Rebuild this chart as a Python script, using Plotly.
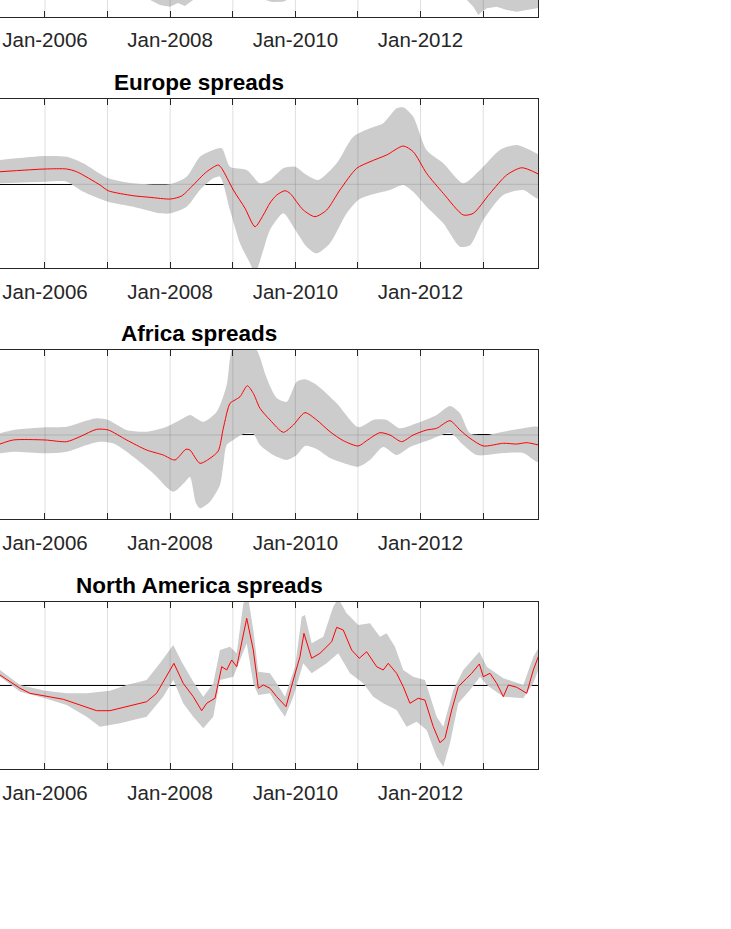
import plotly.graph_objects as go
from datetime import datetime, timedelta

# ---------------- data (time as decimal year, values as spread index) ----------------
# Top panel (only its lower band edge is visible, the rest is cropped away)
top_low_t = [2005.281, 2007.518, 2007.677, 2007.837, 2007.997, 2008.125, 2008.236, 2008.396, 2008.556,
             2009.355, 2009.466, 2009.626, 2009.802, 2009.914, 2010.073,
             2012.549, 2012.725, 2012.842, 2012.922, 2012.976, 2013.056, 2013.215, 2013.375,
             2013.535, 2013.695, 2013.854, 2013.880]
top_low_v = [-0.6, -0.7, -0.80, -0.862, -0.882, -0.838, -0.873, -0.80, -0.7,
             -0.7, -0.79, -0.826, -0.822, -0.79, -0.7,
             -0.7, -0.79, -0.882, -0.980, -0.941, -0.901, -0.882, -0.921,
             -0.941, -0.921, -0.901, -0.897]

# Europe
eu_mid_t = [2005.281, 2006.000, 2006.347, 2006.506, 2006.879, 2007.011, 2007.411, 2007.677, 2008.008,
            2008.184, 2008.369, 2008.583, 2008.768, 2008.823, 2009.008, 2009.195, 2009.355, 2009.487,
            2009.594, 2009.701, 2009.834, 2009.914, 2010.126, 2010.313, 2010.500, 2010.712, 2010.979,
            2011.192, 2011.458, 2011.724, 2011.883, 2012.097, 2012.363, 2012.682, 2012.842, 2013.108,
            2013.375, 2013.615, 2013.880]
eu_mid_v = [0.149, 0.181, 0.181, 0.149, -0.008, -0.076, -0.135, -0.154, -0.174,
            -0.138, -0.008, 0.149, 0.228, 0.189, -0.067, -0.284, -0.502, -0.363,
            -0.221, -0.127, -0.076, -0.107, -0.304, -0.383, -0.304, -0.067, 0.189,
            0.267, 0.347, 0.453, 0.386, 0.130, -0.107, -0.363, -0.343, -0.107,
            0.110, 0.196, 0.122]
eu_up_t = [2005.281, 2006.000, 2006.347, 2006.612, 2007.011, 2007.411, 2008.008, 2008.264, 2008.476,
           2008.688, 2008.823, 2008.955, 2009.222, 2009.434, 2009.594, 2009.807, 2009.994, 2010.180,
           2010.366, 2010.660, 2010.925, 2011.192, 2011.404, 2011.618, 2011.724, 2011.883, 2012.097,
           2012.363, 2012.682, 2012.949, 2013.268, 2013.535, 2013.800, 2013.880]
eu_up_v = [0.288, 0.335, 0.327, 0.249, 0.071, 0.012, 0.004, 0.090, 0.327,
           0.406, 0.426, 0.208, 0.169, 0.012, 0.051, 0.189, 0.208, 0.110,
           0.051, 0.249, 0.563, 0.663, 0.722, 0.899, 0.911, 0.800, 0.406,
           0.249, 0.012, 0.169, 0.406, 0.465, 0.386, 0.347]
eu_lo_t = [2005.281, 2006.000, 2006.347, 2006.612, 2007.011, 2007.411, 2007.837, 2008.008, 2008.264,
           2008.476, 2008.688, 2008.795, 2008.955, 2009.115, 2009.275, 2009.355, 2009.487, 2009.594,
           2009.807, 2009.966, 2010.180, 2010.340, 2010.553, 2010.819, 2011.005, 2011.192, 2011.511,
           2011.724, 2011.883, 2012.097, 2012.363, 2012.629, 2012.789, 2013.001, 2013.321, 2013.640,
           2013.880]
eu_lo_v = [0.012, 0.031, 0.031, -0.088, -0.206, -0.265, -0.343, -0.343, -0.265,
           -0.067, 0.071, 0.090, -0.304, -0.698, -0.935, -1.05, -0.778, -0.541,
           -0.343, -0.501, -0.738, -0.817, -0.698, -0.343, -0.185, -0.127, -0.067,
           -0.008, -0.088, -0.265, -0.462, -0.738, -0.722, -0.422, -0.127, -0.067,
           -0.166]

# Africa
af_mid_t = [2005.281, 2005.494, 2006.000, 2006.347, 2006.559, 2006.826, 2007.011, 2007.305, 2007.625,
            2007.890, 2008.077, 2008.252, 2008.316, 2008.476, 2008.636, 2008.768, 2008.848, 2008.955,
            2009.035, 2009.115, 2009.232, 2009.327, 2009.434, 2009.594, 2009.807, 2009.966, 2010.153,
            2010.340, 2010.553, 2010.765, 2011.005, 2011.139, 2011.351, 2011.511, 2011.698, 2011.883,
            2012.097, 2012.257, 2012.470, 2012.629, 2012.789, 2013.001, 2013.321, 2013.535, 2013.695,
            2013.880]
af_mid_v = [-0.107, -0.059, -0.059, -0.079, -0.020, 0.067, 0.059, -0.059, -0.178,
            -0.237, -0.296, -0.169, -0.178, -0.335, -0.276, -0.189, 0.079, 0.375,
            0.414, 0.453, 0.583, 0.493, 0.316, 0.178, 0.032, 0.118, 0.264,
            0.178, 0.039, -0.067, -0.130, -0.067, 0.027, 0.000, -0.079, 0.000,
            0.059, 0.079, 0.169, 0.059, -0.039, -0.130, -0.098, -0.107, -0.091,
            -0.118]
af_up_t = [2005.281, 2005.494, 2006.000, 2006.347, 2006.559, 2006.826, 2007.011, 2007.305, 2007.625,
           2007.944, 2008.209, 2008.316, 2008.529, 2008.743, 2008.902, 2008.955, 2009.008, 2009.195,
           2009.382, 2009.541, 2009.701, 2009.861, 2010.021, 2010.153, 2010.340, 2010.660, 2011.005,
           2011.244, 2011.458, 2011.671, 2011.938, 2012.257, 2012.470, 2012.629, 2012.789, 2013.056,
           2013.321, 2013.640, 2013.880]
af_up_v = [0.020, 0.059, 0.091, 0.098, 0.146, 0.198, 0.178, 0.059, 0.039,
           0.098, 0.198, 0.237, 0.157, 0.276, 0.592, 0.908, 1.065, 1.124,
           1.006, 0.675, 0.438, 0.394, 0.631, 0.659, 0.592, 0.375, 0.091,
           0.178, 0.178, 0.079, 0.138, 0.237, 0.343, 0.257, 0.020, 0.000,
           0.039, 0.079, 0.091]
af_lo_t = [2005.281, 2005.494, 2006.000, 2006.347, 2006.666, 2006.879, 2007.091, 2007.411, 2007.730,
           2008.050, 2008.236, 2008.316, 2008.412, 2008.476, 2008.636, 2008.795, 2008.848, 2008.902,
           2009.008, 2009.168, 2009.327, 2009.434, 2009.647, 2009.861, 2010.021, 2010.153, 2010.340,
           2010.553, 2010.765, 2011.005, 2011.192, 2011.404, 2011.618, 2011.831, 2012.097, 2012.470,
           2012.682, 2012.896, 2013.321, 2013.640, 2013.880]
af_lo_v = [-0.217, -0.198, -0.217, -0.198, -0.118, -0.079, -0.098, -0.257, -0.453,
           -0.671, -0.556, -0.497, -0.805, -0.867, -0.789, -0.592, -0.355, -0.118,
           -0.059, 0.012, 0.012, -0.118, -0.237, -0.296, -0.237, -0.130, -0.166,
           -0.272, -0.331, -0.375, -0.296, -0.142, -0.237, -0.142, -0.071, 0.024,
           -0.118, -0.237, -0.213, -0.213, -0.320]

# North America
na_mid_t = [2005.281, 2005.441, 2005.601, 2005.760, 2006.000, 2006.292, 2006.559, 2006.826, 2007.038,
            2007.305, 2007.625, 2007.784, 2007.944, 2008.061, 2008.209, 2008.369, 2008.503, 2008.583,
            2008.716, 2008.823, 2008.902, 2008.982, 2009.062, 2009.222, 2009.327, 2009.407, 2009.487,
            2009.594, 2009.701, 2009.850, 2009.966, 2010.073, 2010.137, 2010.260, 2010.393, 2010.580,
            2010.660, 2010.765, 2010.899, 2011.021, 2011.139, 2011.299, 2011.404, 2011.484, 2011.618,
            2011.724, 2011.831, 2011.963, 2012.070, 2012.203, 2012.310, 2012.390, 2012.497, 2012.602,
            2012.736, 2012.816, 2012.938, 2013.001, 2013.108, 2013.215, 2013.321, 2013.401, 2013.535,
            2013.695, 2013.800, 2013.880]
na_mid_v = [0.119, 0.039, -0.039, -0.099, -0.131, -0.170, -0.238, -0.306, -0.306,
            -0.258, -0.199, -0.099, 0.099, 0.258, 0.020, -0.139, -0.306, -0.218,
            -0.158, 0.218, 0.179, 0.298, 0.218, 0.794, 0.417, -0.039, 0.000,
            -0.039, -0.139, -0.258, 0.060, 0.337, 0.615, 0.318, 0.377, 0.515,
            0.687, 0.655, 0.417, 0.318, 0.396, 0.218, 0.179, 0.258, 0.139,
            -0.020, -0.218, -0.158, -0.179, -0.496, -0.687, -0.635, -0.298, -0.020,
            0.080, 0.139, 0.250, 0.099, 0.139, 0.020, -0.139, 0.000, -0.027,
            -0.099, 0.179, 0.337]
na_up_t = [2005.281, 2005.601, 2006.000, 2006.347, 2006.666, 2007.038, 2007.305, 2007.625, 2007.837,
           2008.050, 2008.184, 2008.369, 2008.529, 2008.688, 2008.795, 2008.955, 2009.062, 2009.168,
           2009.248, 2009.327, 2009.407, 2009.594, 2009.701, 2009.834, 2009.994, 2010.101, 2010.153,
           2010.260, 2010.446, 2010.605, 2010.685, 2010.819, 2011.005, 2011.192, 2011.351, 2011.458,
           2011.591, 2011.724, 2011.883, 2012.070, 2012.257, 2012.363, 2012.522, 2012.682, 2012.938,
           2013.056, 2013.321, 2013.640, 2013.800, 2013.880]
na_up_v = [0.179, 0.000, -0.068, -0.099, -0.099, -0.068, 0.000, 0.060, 0.258,
           0.476, 0.277, 0.039, -0.139, 0.020, 0.417, 0.456, 0.377, 0.973,
           1.03, 0.655, 0.158, 0.139, 0.020, -0.139, 0.218, 0.813, 0.833,
           0.496, 0.575, 0.932, 1.03, 0.854, 0.714, 0.735, 0.575, 0.615,
           0.456, 0.179, 0.099, 0.060, -0.377, -0.496, -0.060, 0.179, 0.396,
           0.218, 0.080, 0.000, 0.337, 0.437]
na_lo_t = [2005.281, 2005.601, 2006.000, 2006.347, 2006.666, 2006.879, 2007.198, 2007.625, 2007.890,
           2008.050, 2008.209, 2008.369, 2008.529, 2008.688, 2008.795, 2009.008, 2009.222, 2009.327,
           2009.407, 2009.594, 2009.701, 2009.834, 2009.966, 2010.126, 2010.260, 2010.500, 2010.685,
           2010.872, 2011.085, 2011.244, 2011.404, 2011.618, 2011.778, 2011.938, 2012.097, 2012.257,
           2012.363, 2012.470, 2012.602, 2012.789, 2012.949, 2013.056, 2013.321, 2013.640, 2013.800,
           2013.880]
na_lo_v = [0.099, -0.080, -0.158, -0.238, -0.377, -0.496, -0.456, -0.377, -0.139,
           0.060, -0.218, -0.377, -0.515, -0.377, 0.060, 0.099, 0.496, 0.020,
           -0.119, -0.099, -0.238, -0.377, -0.139, 0.258, 0.139, 0.258, 0.377,
           0.139, 0.020, -0.139, -0.218, -0.298, -0.496, -0.437, -0.536, -0.854,
           -0.973, -0.694, -0.218, -0.060, 0.099, 0.000, -0.139, -0.158, 0.020,
           0.179]

panel_titles = ["", "Europe spreads", "Africa spreads", "North America spreads"]
tick_years = [2006, 2007, 2008, 2009, 2010, 2011, 2012, 2013]
tick_text = ["Jan-2006", "", "Jan-2008", "", "Jan-2010", "", "Jan-2012", ""]
x_range_t = [2005.281, 2013.880]

# ---------------- helpers ----------------
def to_date(t):
    y = int(t)
    start = datetime(y, 1, 1)
    ndays = (datetime(y + 1, 1, 1) - start).days
    return start + timedelta(days=(t - y) * ndays)

def dates(ts):
    return [to_date(t) for t in ts]

def sfx(i):
    return "" if i == 0 else str(i + 1)

W, H = 731, 929
FONT = "Liberation Sans, Arial, Helvetica, sans-serif"
BAND = "#cccccc"
GRID = "rgba(38,38,38,0.15)"
AX = "#262626"

xdom = [0, 538.3 / W]
# (top_px, bottom_px) of each axes box, y range
boxes = [(-152.3, 16.7), (99.3, 268.3), (350.0, 519.3), (601.7, 769.3)]
yranges = [[-1.0, -0.8024], [-0.994, 1.006], [-0.998, 1.006], [-1.004, 0.992]]
smooth = [False, True, True, False]

fig = go.Figure()

def add_band(i, up_t, up_v, lo_t, lo_v):
    xs = dates(up_t) + dates(lo_t)[::-1]
    ys = list(up_v) + list(lo_v)[::-1]
    ln = dict(width=0, color=BAND)
    if smooth[i]:
        ln.update(shape="spline", smoothing=0.7)
    fig.add_trace(go.Scatter(x=xs, y=ys, fill="toself", fillcolor=BAND, mode="lines",
                             line=ln, hoverinfo="skip",
                             xaxis="x" + sfx(i), yaxis="y" + sfx(i), showlegend=False))

def add_mid(i, t, v):
    ln = dict(color="red", width=1)
    if smooth[i]:
        ln.update(shape="spline", smoothing=0.7)
    fig.add_trace(go.Scatter(x=dates(t), y=v, mode="lines", line=ln,
                             xaxis="x" + sfx(i), yaxis="y" + sfx(i), showlegend=False))

# top (cropped) panel: band lower edge only
fig.add_trace(go.Scatter(x=dates(top_low_t), y=top_low_v, mode="lines", fill="tozeroy",
                         fillcolor=BAND, line=dict(width=0, color=BAND), xaxis="x", yaxis="y",
                         showlegend=False, hoverinfo="skip"))
add_band(1, eu_up_t, eu_up_v, eu_lo_t, eu_lo_v)
add_mid(1, eu_mid_t, eu_mid_v)
add_band(2, af_up_t, af_up_v, af_lo_t, af_lo_v)
add_mid(2, af_mid_t, af_mid_v)
add_band(3, na_up_t, na_up_v, na_lo_t, na_lo_v)
add_mid(3, na_mid_t, na_mid_v)

layout = dict(width=W, height=H, margin=dict(l=0, r=0, t=0, b=0), autosize=False,
              paper_bgcolor="white", plot_bgcolor="white", showlegend=False,
              font=dict(family=FONT, color=AX))
tickvals = [datetime(y, 1, 1) for y in tick_years]
shapes = []
annotations = []
for i, ((top, bot), yr) in enumerate(zip(boxes, yranges)):
    s = sfx(i)
    d0 = (H - bot) / H
    d1 = min(1.0, (H - top) / H)
    layout["xaxis" + s] = dict(
        domain=xdom, anchor="y" + s, type="date",
        range=[to_date(x_range_t[0]), to_date(x_range_t[1])],
        tickmode="array", tickvals=tickvals, ticktext=tick_text,
        ticks="inside", ticklen=6, tickwidth=1, tickcolor=AX,
        showline=True, linecolor=AX, linewidth=1,
        mirror="ticks" if i > 0 else False,
        showgrid=False, zeroline=False, layer="above traces",
        ticklabelstandoff=5,
        tickfont=dict(family=FONT, size=20.5, color=AX),
    )
    layout["yaxis" + s] = dict(
        domain=[d0, d1], anchor="x" + s, side="right", range=yr,
        showline=True, linecolor=AX, linewidth=1, mirror=False,
        ticks="", showticklabels=False, showgrid=False,
        zeroline=(i > 0), zerolinecolor="black", zerolinewidth=1,
        layer="above traces",
    )
    for tv in tickvals:
        shapes.append(dict(type="line", xref="x" + s, yref="y" + s + " domain", x0=tv, x1=tv,
                           y0=0, y1=1, line=dict(color=GRID, width=1), layer="above"))
    if i > 0:
        shapes.append(dict(type="line", xref="x" + s + " domain", yref="y" + s, x0=0, x1=1,
                           y0=0, y1=0, line=dict(color=GRID, width=1), layer="above"))
        annotations.append(dict(text=f"<b>{panel_titles[i]}</b>", xref="paper", yref="paper",
                                x=199 / W, y=(H - (top - 2.0)) / H, xanchor="center",
                                yanchor="bottom", showarrow=False,
                                font=dict(family=FONT, size=22.5, color="black")))
layout["shapes"] = shapes
layout["annotations"] = annotations
fig.update_layout(**layout)
fig.write_html("out.html", config={"displayModeBar": False},
               post_script="document.body.style.margin='0px';document.body.style.padding='0px';")
